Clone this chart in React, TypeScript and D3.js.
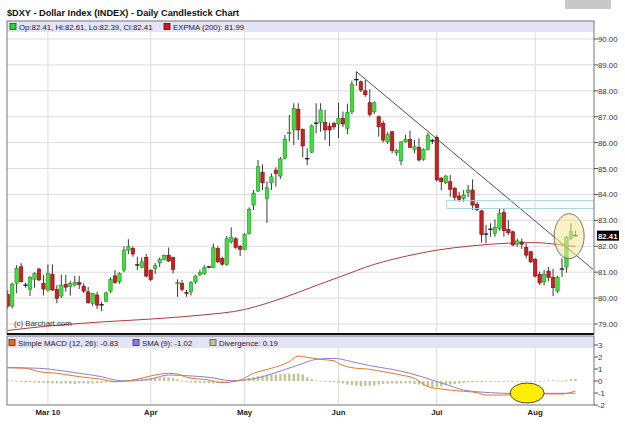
import React from "react";
import * as d3 from "d3";

// ---- data ----
const monthLabels = ["Mar 10", "Apr", "May", "Jun", "Jul", "Aug"];
const monthIdx = [9, 32, 53, 74, 96, 118];
const priceTicks = [79, 80, 81, 82, 83, 84, 85, 86, 87, 88, 89, 90];
const macdTicks = [-2, -1, 0, 1, 2, 3];

const opens = [80.14, 79.69, 80.57, 81.21, 80.5, 80.33, 80.72, 81.12, 80.57, 80.31, 80.92, 80.34, 80.08, 80.53, 80.44, 80.5, 80.6, 80.46, 80.24, 79.79, 80.12, 79.73, 79.88, 80.27, 80.86, 80.63, 81.08, 81.85, 81.92, 81.27, 81.19, 81.57, 81.08, 81.15, 81.36, 81.5, 81.66, 81.56, 80.55, 80.57, 80.22, 80.24, 80.63, 80.9, 80.95, 81.19, 81.19, 81.92, 81.53, 81.3, 82.17, 82.29, 82.0, 81.88, 82.5, 83.59, 84.13, 84.85, 83.85, 84.45, 84.94, 84.71, 85.4, 86.36, 86.49, 87.29, 86.51, 85.37, 85.63, 86.74, 86.78, 86.78, 86.64, 86.74, 86.72, 86.94, 86.55, 87.19, 88.42, 88.35, 88.0, 87.54, 87.19, 87.0, 86.74, 86.03, 86.42, 85.61, 85.3, 86.03, 86.13, 85.74, 85.82, 85.36, 85.74, 86.06, 86.2, 84.63, 84.45, 84.49, 84.24, 83.94, 83.85, 84.07, 84.17, 83.62, 83.37, 82.46, 82.65, 82.5, 82.69, 83.3, 82.65, 82.56, 82.08, 82.17, 81.96, 81.79, 81.49, 80.92, 80.63, 81.04, 80.8, 80.27, 81.11, 81.2, 82.31, 82.41];
const highs = [80.3, 80.6, 81.27, 81.35, 80.6, 80.85, 81.0, 81.17, 80.9, 81.3, 81.3, 80.5, 80.9, 80.9, 80.66, 80.86, 80.86, 80.57, 80.43, 80.2, 80.25, 79.86, 80.25, 80.8, 81.08, 81.0, 82.0, 82.27, 82.0, 81.6, 81.57, 81.7, 81.1, 81.36, 81.57, 81.68, 81.95, 81.6, 80.72, 80.7, 80.31, 80.65, 80.9, 81.1, 81.27, 81.25, 82.1, 82.0, 81.6, 82.4, 82.73, 82.35, 82.05, 82.5, 83.5, 84.17, 85.33, 85.16, 84.5, 84.81, 85.05, 85.45, 86.3, 87.07, 87.52, 87.52, 86.55, 85.78, 86.7, 87.52, 87.52, 87.26, 86.77, 86.8, 87.54, 87.2, 87.5, 88.39, 88.74, 88.4, 88.42, 88.06, 87.6, 87.05, 86.85, 86.4, 86.45, 85.75, 86.06, 86.3, 86.46, 86.1, 86.17, 85.78, 86.38, 86.15, 86.28, 84.68, 84.75, 84.75, 84.3, 84.1, 84.17, 84.36, 84.58, 83.72, 83.4, 82.82, 82.89, 83.04, 83.46, 83.46, 83.01, 82.6, 82.3, 82.3, 82.11, 81.8, 81.55, 81.02, 81.08, 81.2, 81.13, 80.85, 81.53, 82.4, 82.89, 82.61];
const lows = [79.6, 79.6, 80.19, 80.6, 80.4, 80.08, 80.4, 80.65, 80.1, 80.25, 80.28, 79.8, 80.0, 80.25, 80.09, 80.45, 80.35, 80.2, 79.78, 79.7, 79.58, 79.5, 79.85, 80.2, 80.55, 80.55, 81.0, 81.7, 81.6, 81.08, 81.15, 80.8, 80.65, 80.93, 81.2, 81.45, 81.4, 80.95, 80.05, 80.25, 80.05, 80.1, 80.55, 80.85, 80.9, 81.15, 81.15, 81.35, 81.25, 81.25, 82.1, 81.9, 81.62, 81.85, 82.45, 83.4, 84.1, 84.17, 82.9, 84.17, 84.3, 84.6, 85.35, 86.04, 85.9, 86.1, 85.43, 85.13, 85.6, 86.36, 86.42, 86.1, 85.87, 86.5, 86.17, 86.6, 86.33, 87.1, 88.19, 87.95, 87.77, 87.0, 87.1, 86.23, 86.0, 85.95, 85.59, 85.5, 85.13, 86.0, 85.8, 85.59, 85.27, 85.3, 85.7, 85.95, 84.5, 84.17, 84.4, 83.91, 83.76, 83.72, 83.72, 83.89, 83.4, 83.35, 82.14, 82.11, 82.37, 82.37, 82.6, 82.37, 82.43, 82.0, 81.98, 81.9, 81.53, 81.35, 80.8, 80.5, 80.5, 80.65, 80.08, 80.2, 80.82, 80.98, 82.25, 82.39];
const closes = [79.69, 80.53, 81.15, 80.63, 80.5, 80.8, 80.95, 80.7, 80.35, 80.95, 80.31, 79.99, 80.5, 80.42, 80.57, 80.6, 80.53, 80.27, 79.82, 80.18, 79.73, 79.74, 80.2, 80.72, 80.6, 80.95, 81.85, 81.98, 81.7, 81.28, 81.4, 80.85, 80.72, 81.25, 81.5, 81.65, 81.43, 81.11, 80.6, 80.34, 80.18, 80.6, 80.85, 80.98, 81.17, 81.2, 81.94, 81.4, 81.31, 82.29, 82.34, 81.96, 81.88, 82.45, 83.42, 84.04, 85.07, 84.45, 84.26, 84.68, 84.81, 85.37, 86.13, 86.4, 87.32, 86.49, 85.87, 85.38, 86.65, 86.75, 87.26, 86.49, 86.49, 86.61, 86.94, 86.72, 87.17, 88.26, 88.43, 88.03, 87.85, 87.09, 87.54, 86.61, 86.1, 86.33, 85.69, 85.71, 86.03, 86.13, 85.82, 85.84, 85.33, 85.74, 86.29, 86.07, 84.56, 84.49, 84.71, 84.2, 83.89, 83.81, 83.98, 84.17, 83.59, 83.42, 82.46, 82.47, 82.66, 82.73, 83.27, 82.6, 82.52, 82.05, 82.21, 82.08, 81.66, 81.4, 80.85, 80.59, 80.92, 80.8, 80.4, 80.79, 81.12, 82.34, 82.56, 82.41];

// EXPMA(200) readings: [day index, value]
const emaPoints: [number, number][] = [[0, 78.75], [9, 78.92], [21, 79.08], [32, 79.19], [43, 79.34], [53, 79.56], [58, 79.8], [65, 80.22], [70, 80.55], [74, 80.8], [82, 81.3], [90, 81.65], [96, 81.85], [104, 82.02], [112, 82.12], [118, 82.14], [123, 82.07], [127, 81.99]];

// MACD readings: [day index, value]
const macdPoints: [number, number][] = [[0, 1.11], [4, 1.06], [7, 0.78], [11, 0.64], [16, 0.36], [21, 0.14], [24, -0.06], [28, 0.08], [32, 0.42], [36, 0.64], [38, 0.58], [40, 0.31], [45, 0.08], [48, -0.14], [52, 0.08], [55, 0.64], [59, 1.06], [63, 1.61], [65, 2.08], [67, 1.97], [70, 1.8], [73, 1.69], [74, 1.47], [77, 1.11], [81, 0.97], [84, 0.78], [88, 0.5], [91, 0.22], [94, -0.47], [97, -0.67], [101, -0.83], [105, -0.97], [107, -1.17], [111, -1.17], [115, -1.03], [121, -1.08], [124, -1.08], [127, -0.83]];
const signalPoints: [number, number][] = [[0, 1.11], [7, 1.06], [12, 0.86], [16, 0.64], [21, 0.36], [24, 0.08], [27, 0.0], [32, 0.17], [36, 0.5], [41, 0.42], [45, 0.31], [50, 0.03], [53, 0.08], [57, 0.36], [61, 0.83], [65, 1.33], [69, 1.8], [73, 1.89], [77, 1.61], [81, 1.28], [86, 0.97], [90, 0.64], [95, 0.08], [98, -0.28], [102, -0.75], [108, -0.97], [112, -1.03], [119, -1.03], [127, -1.02]];
const divergence = [0.05, 0.03, -0.08, -0.1, -0.12, -0.1, -0.12, -0.15, -0.15, -0.18, -0.2, -0.2, -0.22, -0.2, -0.22, -0.25, -0.2, -0.2, -0.22, -0.2, -0.18, -0.15, -0.12, -0.1, -0.08, -0.05, 0.02, 0.08, 0.12, 0.15, 0.18, 0.2, 0.22, 0.25, 0.28, 0.32, 0.3, 0.25, 0.15, 0.02, -0.08, -0.12, -0.15, -0.15, -0.17, -0.18, -0.2, -0.18, -0.15, -0.12, -0.08, -0.03, 0.05, 0.15, 0.25, 0.32, 0.4, 0.45, 0.5, 0.52, 0.55, 0.58, 0.6, 0.62, 0.6, 0.62, 0.55, 0.3, 0.15, 0.05, 0.02, -0.03, -0.05, -0.1, -0.15, -0.2, -0.3, -0.35, -0.4, -0.45, -0.42, -0.4, -0.38, -0.3, -0.25, -0.22, -0.2, -0.22, -0.2, -0.18, -0.2, -0.25, -0.3, -0.4, -0.5, -0.55, -0.5, -0.45, -0.35, -0.3, -0.25, -0.2, -0.15, -0.12, -0.1, -0.08, -0.1, -0.05, -0.02, -0.05, -0.03, 0.0, -0.02, -0.03, -0.02, -0.05, -0.03, -0.02, -0.03, -0.05, 0.02, 0.04, 0.06, 0.03, 0.0, 0.08, 0.15, 0.19];

// annotations (data coordinates)
const trendStart: [number, number] = [78, 88.74];
const trendEnd: [number, number] = [131, 81.1];
const zoneIdx = 98.2;
const zoneTop = 83.76;
const zoneBot = 83.46;
const circle1: [number, number] = [125.6, 82.39];
const circle2: [number, number] = [116.2, -1.0];

const FONT = "'Liberation Sans', Arial, sans-serif";

export default function App() {
  const L = 7, R = 594;
  const mainTop = 21, mainBot = 334;
  const macdTop = 336, macdBot = 405;
  const x = d3.scaleLinear().domain([0, 127]).range([7.7, 575.4]);
  const y = d3.scaleLinear().domain([79, 90]).range([324, 39]);
  const ym = d3.scaleLinear().domain([-2, 3]).range([405, 345]);

  const emaLine = d3.line<[number, number]>().x(d => x(d[0])).y(d => y(d[1])).curve(d3.curveMonotoneX);
  const mLine = d3.line<[number, number]>().x(d => x(d[0])).y(d => ym(d[1])).curve(d3.curveMonotoneX);

  const bw = 3.4;
  const lastClose = closes[closes.length - 1];

  return (
    <svg width={625} height={427} style={{ position: "absolute", left: 0, top: 0, background: "#fff" }} fontFamily={FONT}>
      <defs>
        <clipPath id="mainClip"><rect x={L} y={mainTop} width={R - L} height={mainBot - mainTop} /></clipPath>
        <clipPath id="macdClip"><rect x={L} y={macdTop} width={R - L} height={macdBot - macdTop} /></clipPath>
      </defs>
      <rect x={0} y={0} width={625} height={427} fill="#fff" />
      <rect x={565} y={0} width={46} height={9} fill="#c8c8c8" />
      <text x={7} y={16} fontSize={9.2} fontWeight="bold" fill="#111">$DXY - Dollar Index (INDEX) - Daily Candlestick Chart</text>

      {/* main panel grid */}
      {priceTicks.map(t => (
        <line key={"h" + t} x1={L} x2={R} y1={y(t)} y2={y(t)} stroke="#dcdcdc" strokeWidth={1} />
      ))}
      {monthIdx.map((m, i) => (
        <line key={"v" + i} x1={x(m)} x2={x(m)} y1={mainTop} y2={mainBot} stroke="#dcdcdc" strokeWidth={1} />
      ))}
      {monthIdx.map((m, i) => (
        <line key={"vm" + i} x1={x(m)} x2={x(m)} y1={macdTop} y2={macdBot} stroke="#dcdcdc" strokeWidth={1} />
      ))}

      <g clipPath="url(#mainClip)">
        <path d={emaLine(emaPoints) || ""} fill="none" stroke="#b03a3a" strokeWidth={1} />
        {opens.map((o, i) => {
          const c = closes[i];
          const cx = x(i);
          const up = c > o;
          const flat = Math.abs(c - o) < 0.02;
          const top = y(Math.max(o, c));
          const h = Math.max(1, y(Math.min(o, c)) - top);
          return (
            <g key={"c" + i}>
              <line x1={cx} x2={cx} y1={y(highs[i])} y2={y(lows[i])} stroke="#3a3a3a" strokeWidth={1} />
              {flat ? (
                <line x1={cx - 2.2} x2={cx + 2.2} y1={y(c)} y2={y(c)} stroke="#111" strokeWidth={1.3} />
              ) : (
                <rect x={cx - bw / 2} y={top} width={bw} height={h}
                  fill={up ? "#3ee03e" : "#cc2020"} stroke={up ? "#2a8a2a" : "#7a1010"} strokeWidth={0.6} />
              )}
            </g>
          );
        })}
        <line x1={x(trendStart[0])} y1={y(trendStart[1])} x2={x(trendEnd[0])} y2={y(trendEnd[1])} stroke="#222" strokeWidth={0.8} />
        <rect x={x(zoneIdx)} y={y(zoneTop)} width={R - x(zoneIdx)} height={y(zoneBot) - y(zoneTop)} fill="none" stroke="#a9d2e2" strokeWidth={1} />
        <ellipse cx={x(circle1[0])} cy={y(circle1[1])} rx={15} ry={22.5} fill="rgba(245,232,150,0.55)" stroke="#555" strokeWidth={0.8} />
      </g>

      {/* main legend band */}
      <rect x={L} y={mainTop} width={R - L} height={11} fill="#e4e4f8" />
      <rect x={10} y={23.5} width={6} height={6} fill="#33cc33" stroke="#1a5a1a" strokeWidth={0.8} />
      <text x={19} y={29.6} fontSize={7.8} fill="#222">Op:82.41, Hi:82.61, Lo:82.39, Cl:82.41</text>
      <rect x={164} y={23.5} width={6} height={6} fill="#cc1a1a" stroke="#5a0a0a" strokeWidth={0.8} />
      <text x={173} y={29.6} fontSize={7.8} fill="#222">EXPMA (200): 81.99</text>
      <text x={14} y={326} fontSize={7.8} fill="#333">(c) Barchart.com</text>

      {/* main frame */}
      <rect x={L} y={mainTop} width={R - L} height={mainBot - mainTop} fill="none" stroke="#777" strokeWidth={1} />
      <line x1={L} x2={R} y1={mainBot} y2={mainBot} stroke="#111" strokeWidth={2} />

      {/* price axis */}
      {priceTicks.map(t => (
        <g key={"pt" + t}>
          <line x1={R} x2={R + 4} y1={y(t)} y2={y(t)} stroke="#555" />
          <text x={598} y={y(t) + 3} fontSize={7.8} fill="#333">{t.toFixed(2)}</text>
        </g>
      ))}
      <rect x={597} y={y(lastClose) - 5} width={22} height={10} fill="#000" />
      <text x={598} y={y(lastClose) + 3} fontSize={7.8} fill="#fff" fontWeight="bold">{lastClose.toFixed(2)}</text>

      {/* MACD panel */}
      <g clipPath="url(#macdClip)">
        {divergence.map((v, i) => (
          <rect key={"d" + i} x={x(i) - 1.2} y={Math.min(ym(v), ym(0))} width={2.4}
            height={Math.max(0.8, Math.abs(ym(v) - ym(0)))} fill="#c4c494" />
        ))}
        <path d={mLine(signalPoints) || ""} fill="none" stroke="#8c7fd0" strokeWidth={1} />
        <path d={mLine(macdPoints) || ""} fill="none" stroke="#e0782a" strokeWidth={1} />
        <ellipse cx={x(circle2[0])} cy={ym(circle2[1])} rx={17} ry={10} fill="#ffee00" stroke="#222" strokeWidth={0.8} />
      </g>
      <rect x={L} y={macdTop} width={R - L} height={12} fill="#e4e4f8" />
      <rect x={9} y={339.5} width={6} height={6} fill="#e06a20" stroke="#6a2a00" strokeWidth={0.8} />
      <text x={18} y={345.5} fontSize={7.8} fill="#222">Simple MACD (12, 26): -0.83</text>
      <rect x={133} y={339.5} width={6} height={6} fill="#8c7fd0" stroke="#3a2a7a" strokeWidth={0.8} />
      <text x={142} y={345.5} fontSize={7.8} fill="#222">SMA (9): -1.02</text>
      <rect x={210} y={339.5} width={6} height={6} fill="#c4c494" stroke="#5a5a3a" strokeWidth={0.8} />
      <text x={219} y={345.5} fontSize={7.8} fill="#222">Divergence: 0.19</text>
      <rect x={L} y={macdTop} width={R - L} height={macdBot - macdTop} fill="none" stroke="#777" strokeWidth={1} />
      {macdTicks.map(t => (
        <g key={"mt" + t}>
          <line x1={R} x2={R + 4} y1={ym(t)} y2={ym(t)} stroke="#555" />
          <text x={598} y={ym(t) + 3} fontSize={7.8} fill="#333">{t}</text>
        </g>
      ))}
      {monthIdx.map((m, i) => (
        <text key={"ml" + i} x={x(m)} y={415} fontSize={7.8} fontWeight="bold" fill="#222" textAnchor="middle">{monthLabels[i]}</text>
      ))}
    </svg>
  );
}
